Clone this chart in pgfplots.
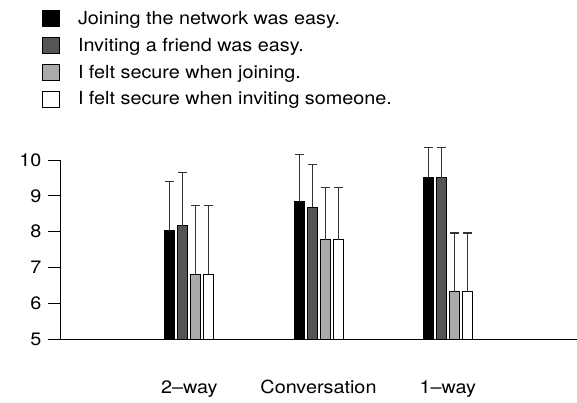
\documentclass[border=0pt]{standalone}
\usepackage{fontspec}
\setmainfont{TeX Gyre Heros}[Ligatures=TeX]
\newfontfamily\hv{TeX Gyre Heros}[Ligatures=TeX,FakeStretch=1.1]
\usepackage{pgfplots}
\pgfplotsset{compat=1.18}
\definecolor{dgray}{HTML}{555555}
\definecolor{lgray}{HTML}{AAAAAA}
\definecolor{errc}{HTML}{333333}
\begin{document}
\begin{tikzpicture}[font=\hv\fontsize{18}{21}\selectfont]
\path[use as bounding box] (0,0) rectangle (577pt,403pt);
\begin{axis}[
  at={(60pt,64pt)}, anchor=south west,
  scale only axis, width=517pt, height=196.9pt,
  xmin=0, xmax=4, ymin=5, ymax=10.5,
  axis x line*=bottom, axis y line*=left,
  y axis line style={draw=none},
  x axis line style={line width=0.8pt, black, -},
  xtick={1,2,3}, xticklabels={2–way,Conversation,1–way},
  x tick style={draw=none},
  tick label style={font=\hv\fontsize{18}{21}\selectfont},
  xticklabel style={yshift=-26pt},
  ytick={5,6,7,8,9,10},
  tick align=outside, major tick length=12pt,
  y tick style={line width=0.8pt, black},
  yticklabel style={xshift=-3pt},
  ybar=3pt, bar width=10pt,
  /pgf/number format/assume math mode=true,
  every axis plot/.append style={draw=black, line width=0.8pt},
  error bars/y dir=plus, error bars/y explicit,
  error bars/error bar style={line width=1pt, errc},
  error bars/error mark options={rotate=90, mark size=4.5pt, line width=1.2pt, errc},
  legend image code/.code={\draw[#1, draw=black, line width=0.8pt] (0pt,-8pt) rectangle (17pt,8pt);},
  legend style={at={(axis description cs:-0.0348,1.676)}, anchor=north west,
    draw=none, fill=none, inner sep=0pt, row sep=8.2pt, column sep=16pt,
    font=\hv\fontsize{18}{21}\selectfont},
  legend cell align=left,
]
\addplot[fill=black] coordinates {(1,8.02) +- (0,1.39) (2,8.83) +- (0,1.33) (3,9.51) +- (0,0.83)};
\addplot[fill=dgray] coordinates {(1,8.17) +- (0,1.47) (2,8.68) +- (0,1.20) (3,9.51) +- (0,0.83)};
\addplot[fill=lgray] coordinates {(1,6.81) +- (0,1.91) (2,7.77) +- (0,1.47) (3,6.32) +- (0,1.64)};
\addplot[fill=white] coordinates {(1,6.81) +- (0,1.91) (2,7.77) +- (0,1.47) (3,6.32) +- (0,1.64)};
\legend{Joining the network was easy.,Inviting a friend was easy.,I felt secure when joining.,I felt secure when inviting someone.}
\coordinate (ybot) at (axis cs:0,5);
\coordinate (ytop) at (axis cs:0,10);
\end{axis}
\draw[line width=0.8pt, black] (ybot) -- (ytop);
\end{tikzpicture}
\end{document}
